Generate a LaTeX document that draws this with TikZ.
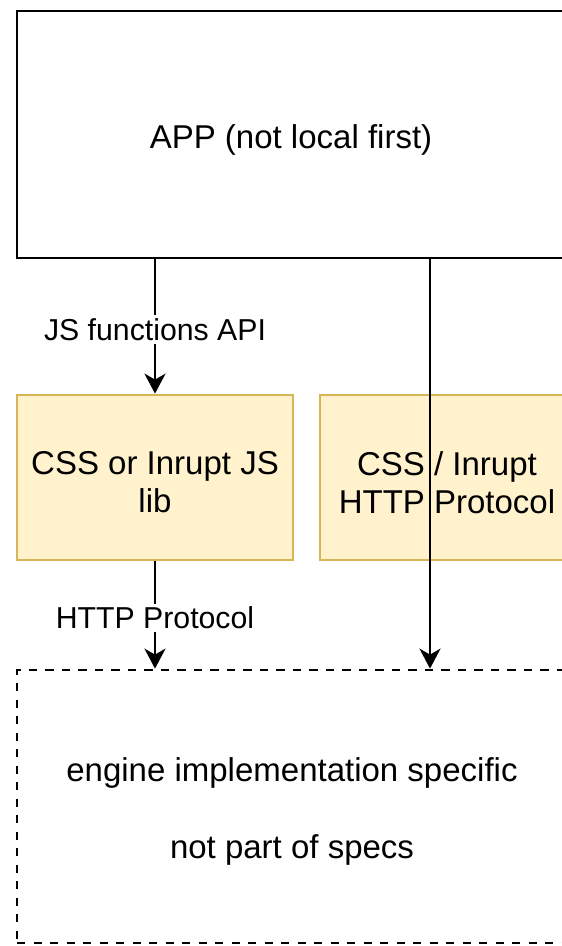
\documentclass[tikz,border=0pt]{standalone}
\usepackage{fontspec}
\setmainfont{Liberation Sans}
\usetikzlibrary{arrows.meta}
\definecolor{yellowfill}{HTML}{FFF2CC}
\definecolor{yellowstroke}{HTML}{D6B656}
\begin{document}
\begin{tikzpicture}[x=1pt,y=-1pt,
  lw/.style={line width=2.75pt},
  box/.style={draw=black, lw, fill=white, inner sep=0pt},
  ybox/.style={box, draw=yellowstroke, fill=yellowfill},
  dbox/.style={box, dash pattern=on 8.25pt off 8.25pt},
  txt/.style={inner sep=0pt, align=center, font=\fontsize{33}{38}\selectfont},
  arr/.style={draw=black, lw, -{Stealth[length=20pt,width=21pt,inset=6pt]}},
  lbl/.style={fill=white, inner sep=3pt, yshift=-3pt, font=\fontsize{30.25}{36}\selectfont}
]
\useasboundingbox (0,0) rectangle (562,946);
\clip (0,0) rectangle (562,946);
\fill[white] (0,0) rectangle (562,946);

\node[box, minimum width=548pt, minimum height=247pt] (app) at (291,134.5) {};
\node[ybox, minimum width=276pt, minimum height=165pt] (lib) at (155,477.5) {};
\node[ybox, minimum width=254pt, minimum height=165pt] (proto) at (447,477.5) {};
\node[dbox, minimum width=550pt, minimum height=273pt] (eng) at (292,806.5) {};

\node[txt] (apptext) at ([yshift=-5pt]app.center) {APP (not local first)};
\node[txt] (libtext) at ([yshift=-5pt]lib.center) {CSS or Inrupt JS\\lib};
\node[txt] (prototext) at ([yshift=-5pt]proto.center) {CSS / Inrupt\\HTTP Protocol};
\node[txt, font=\fontsize{33}{38.5}\selectfont] (engtext) at ([yshift=-5pt]eng.center) {engine implementation specific\\[38.5pt]not part of specs};

\coordinate (c2) at (430,0);
\draw[arr] (app.south -| lib) -- node[lbl] (l1) {JS functions API} (lib.north);
\draw[arr] (lib.south) -- node[lbl] (l2) {HTTP Protocol} (eng.north -| lib);
\draw[arr] (app.south -| c2) -- (eng.north -| c2);
\end{tikzpicture}
\end{document}
